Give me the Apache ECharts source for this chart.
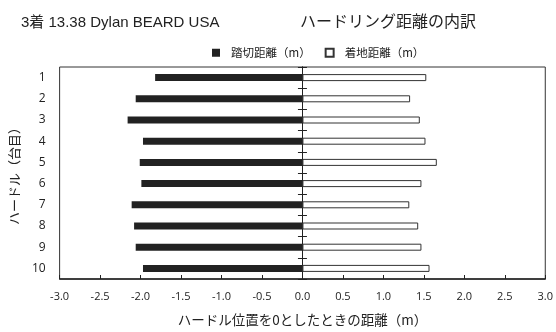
<!DOCTYPE html>
<html><head><meta charset="utf-8">
<script src="https://cdn.jsdelivr.net/npm/echarts@6/dist/echarts.min.js"></script>
<style>html,body{margin:0;padding:0;background:#fff}#c{width:556px;height:332px}</style>
</head><body><div id="c"></div>
<script>
const categories = ['1','2','3','4','5','6','7','8','9','10'];
const takeoff = [-1.82,-2.06,-2.16,-1.97,-2.01,-1.99,-2.11,-2.08,-2.06,-1.97];
const landing = [1.53,1.33,1.45,1.52,1.66,1.47,1.32,1.43,1.47,1.57];
const xTicks = {min:-3, max:3, interval:0.5};
const seriesNames = ['踏切距離（m）','着地距離（m）'];

const jp = '"Noto Sans CJK JP", "Noto Sans", sans-serif';
const chart = echarts.init(document.getElementById('c'));
const catAxisBase = {type:'category', data:categories, inverse:true, boundaryGap:true};
chart.setOption({
  animation:false,
  title:[
    {text:'3着 13.38 Dylan BEARD USA', left:16, top:10, textStyle:{fontSize:15, fontWeight:'normal', color:'#222', fontFamily:'"Liberation Sans", "Noto Sans CJK JP", sans-serif'}},
    {text:'ハードリング距離の内訳', left:295, top:8, textStyle:{fontSize:16, fontWeight:'normal', color:'#222', fontFamily:jp}}
  ],
  legend:{
    top:42, left:207, itemWidth:8, itemHeight:8, itemGap:14, icon:'rect',
    textStyle:{fontSize:11.5, color:'#222', fontFamily:jp, padding:[0,0,0,6]},
    data:seriesNames
  },
  grid:{left:59, right:9, top:67, bottom:53, show:true, borderColor:'#333', borderWidth:1},
  xAxis:[
    {type:'value', min:xTicks.min, max:xTicks.max, interval:xTicks.interval, position:'bottom',
     axisLine:{show:true, onZero:false, lineStyle:{color:'#222', width:1.5}},
     axisTick:{show:true, inside:true, length:4, lineStyle:{color:'#222'}},
     splitLine:{show:false},
     axisLabel:{formatter:v=>v.toFixed(1), fontSize:11, color:'#222', margin:12, fontFamily:'"Open Sans", "Liberation Sans", sans-serif'},
     name:'ハードル位置を0としたときの距離（m）', nameLocation:'middle', nameGap:34,
     nameTextStyle:{fontSize:13.5, color:'#222', fontFamily:jp}},
    {type:'value', min:xTicks.min, max:xTicks.max, interval:xTicks.interval, show:false}
  ],
  yAxis:[
    Object.assign({}, catAxisBase, {
      axisLine:{show:true, onZero:true, lineStyle:{color:'#222', width:1}},
      axisTick:{show:true, inside:false, length:4.5, lineStyle:{color:'#222'}},
      axisLabel:{show:false}, splitLine:{show:false}
    }),
    Object.assign({}, catAxisBase, {
      position:'left',
      axisLine:{show:true, onZero:true, onZeroAxisIndex:1, lineStyle:{color:'#222', width:1}},
      axisTick:{show:true, inside:true, length:4.5, lineStyle:{color:'#222'}},
      axisLabel:{show:false}, splitLine:{show:false}
    }),
    Object.assign({}, catAxisBase, {
      position:'left',
      axisLine:{show:false, onZero:false}, axisTick:{show:false},
      axisLabel:{show:true, fontSize:12, color:'#222', margin:14, fontFamily:'"Open Sans", "Liberation Sans", sans-serif'},
      name:'ハードル（台目）', nameLocation:'middle', nameGap:32, nameRotate:90,
      nameTextStyle:{fontSize:13, color:'#222', fontFamily:jp}
    })
  ],
  series:[
    {name:seriesNames[0], type:'bar', data:takeoff, xAxisIndex:0, yAxisIndex:0, barWidth:7, barGap:'-100%',
     itemStyle:{color:'#222', borderColor:'#222', borderWidth:0}},
    {name:seriesNames[1], type:'bar', data:landing, xAxisIndex:0, yAxisIndex:0, barWidth:7, barGap:'-100%',
     itemStyle:{color:'#fff', borderColor:'#333', borderWidth:1}}
  ]
});
</script></body></html>
